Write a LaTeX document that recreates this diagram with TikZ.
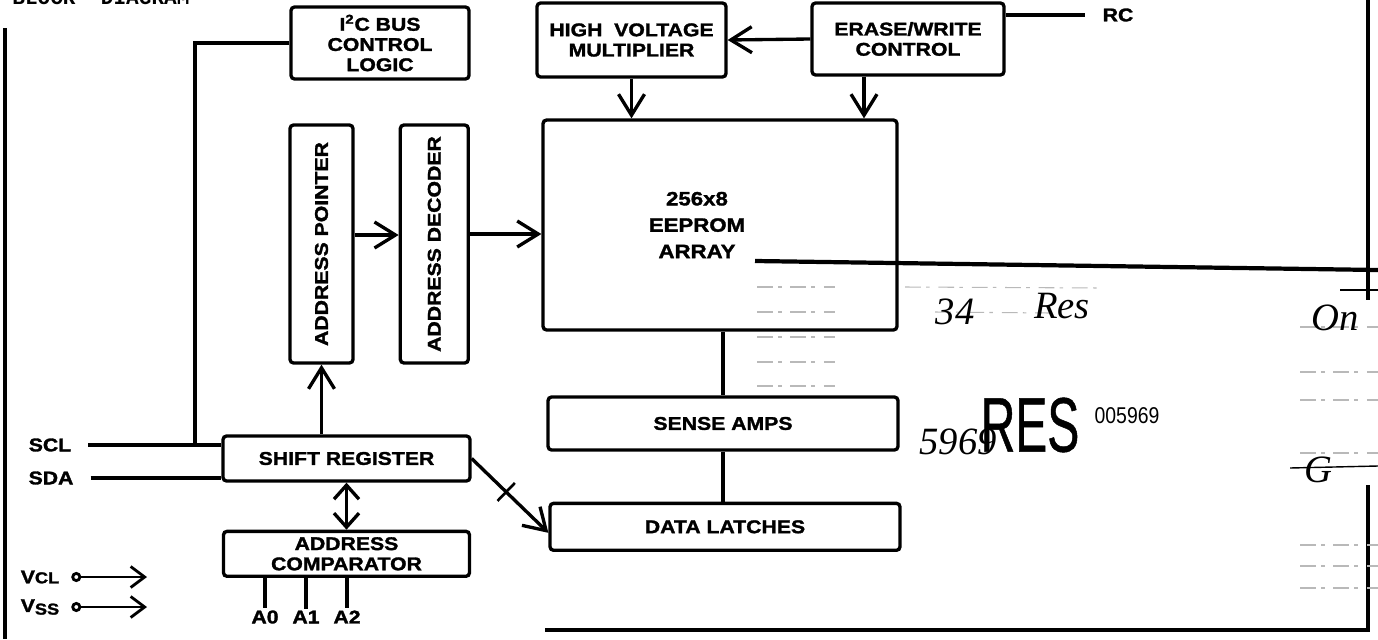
\documentclass[tikz,border=0pt]{standalone}
\usepackage{fontspec}
\setmainfont{Liberation Sans}[FakeStretch=1.15, BoldFeatures={FakeBold=1.6}]
\newfontfamily\typefont{Liberation Mono}
\newfontfamily\handfont{Liberation Serif}
\newfontfamily\stampfont{Liberation Sans}[FakeStretch=0.62, FakeBold=0.6]
\newfontfamily\numfont{Liberation Sans}[FakeStretch=0.85]
\usetikzlibrary{arrows.meta, positioning, calc}

\begin{document}
\begin{tikzpicture}[
    x=0.02cm, y=-0.02cm,
    block/.style={rectangle, rounded corners=2pt, draw=black, line width=1.9pt, align=center, inner sep=0pt, font=\fontsize{10.5}{11.5}\selectfont\bfseries},
    pinname/.style={inner sep=1pt, font=\fontsize{10.5}{11.5}\selectfont\bfseries},
    arrow/.style={line width=1.9pt, -{Straight Barb[length=0.42cm,width=0.52cm]}},
    dblarrow/.style={line width=1.9pt, {Straight Barb[length=0.28cm,width=0.5cm]}-{Straight Barb[length=0.28cm,width=0.5cm]}},
    supply/.style={line width=1.6pt, {Circle[open,length=0.2cm]}-{Straight Barb[length=0.28cm,width=0.42cm]}},
    wire/.style={line width=1.9pt},
    hand/.style={inner sep=0pt, font=\handfont\itshape\fontsize{22}{22}\selectfont},
    scan/.style={gray!55, line width=0.6pt, dash pattern=on 9pt off 3pt on 2pt off 5pt},
]
    \useasboundingbox (0,0) rectangle (1378,639);

    % page frame and title
    \node[anchor=base west, inner sep=0pt, font=\typefont\bfseries\fontsize{12}{12}\selectfont] (title) at (12,5) {BLOCK\ \ DIAGRAM};
    \draw[wire] (5,28) -- (5,639);
    \draw[wire] (1368,0) -- (1368,300);
    \draw[wire] (1368,485) -- (1368,630) -- (545,630);

    % control blocks on top
    \node[block, minimum width=3.56cm, minimum height=1.44cm] (i2c) at (380,43) {I\textsuperscript{2}C BUS\\CONTROL\\LOGIC};
    \node[block, minimum width=3.78cm, minimum height=1.48cm] (hvm) at (631.5,40) {HIGH\ \ VOLTAGE\\MULTIPLIER};
    \node[block, minimum width=3.84cm, minimum height=1.44cm] (ewc) at (908,39) {ERASE/WRITE\\CONTROL};
    \node[pinname] (rc) at (1118,15) {RC};

    % memory array
    \node[block, minimum width=7.08cm, minimum height=4.2cm] (arr) at (720,225) {};
    \node[pinname, align=center, font=\fontsize{11}{15}\selectfont\bfseries] (arrtxt) at (697,225) {256x8\\EEPROM\\ARRAY};
    \node[block, minimum width=7.0cm, minimum height=1.06cm] (sa) at (723,423.5) {SENSE AMPS};
    \node[block, minimum width=7.0cm, minimum height=0.94cm, below=1.0cm of sa, xshift=0.04cm] (dl) {DATA LATCHES};

    % address path
    \node[block, minimum width=1.26cm, minimum height=4.76cm] (ap) at (321.5,244) {\rotatebox{90}{ADDRESS POINTER}};
    \node[block, minimum width=1.36cm, minimum height=4.76cm, right=0.88cm of ap] (ad) {\rotatebox{90}{ADDRESS DECODER}};
    \node[block, minimum width=4.94cm, minimum height=0.9cm] (sr) at (346.5,458.5) {SHIFT REGISTER};
    \node[block, minimum width=4.92cm, minimum height=0.9cm, below=0.94cm of sr] (ac) {ADDRESS\\COMPARATOR};

    % pins
    \node[pinname] (scl) at (50,445) {SCL};
    \node[pinname] (sda) at (51,478) {SDA};
    \node[pinname] (vcl) at (40,577) {V{\fontsize{9}{9}\selectfont CL}};
    \node[pinname] (vss) at (40,607) {V\raisebox{-1.5pt}{\fontsize{9}{9}\selectfont SS}};
    \coordinate (vclend) at (147,577);
    \coordinate (vssend) at (147,607);
    \node[pinname] (a0) at (265,617) {A0};
    \node[pinname] (a1) at (306,617) {A1};
    \node[pinname] (a2) at (347,617) {A2};
    \coordinate (rcpin) at (1085,15);
    \coordinate (sclj) at (195,445);

    \draw[arrow] (ewc.west) -- (hvm.east);
    \draw[wire] (ewc.east |- rcpin) -- (rcpin);
    \draw[arrow] (hvm.south) -- (hvm.south |- arr.north);
    \draw[arrow] ([xshift=-0.88cm]ewc.south) -- ([xshift=-0.88cm]ewc.south |- arr.north);
    \draw[arrow] ([yshift=0.18cm]ap.east) -- ([yshift=0.18cm]ap.east -| ad.west);
    \draw[arrow] ([yshift=0.2cm]ad.east) -- ([yshift=0.2cm]ad.east -| arr.west);
    \draw[arrow] (ap.south |- sr.north) -- (ap.south);
    \draw[dblarrow] (sr.south) -- (ac.north);
    \draw[arrow] (sr.east) -- node[pos=0.45, sloped, draw, line width=1.5pt, inner sep=0pt, minimum width=0pt, minimum height=0.5cm] (bus) {} ([yshift=-0.12cm]dl.west);
    \draw[wire] (arr.south -| sa.north) -- (sa.north);
    \draw[wire] (sa.south) -- (sa.south |- dl.north);
    \draw[wire] (i2c.west) -- (sclj |- i2c.west) -- (sclj);
    \draw[wire] ($(scl.east)+(15,0)$) -- (scl.east -| sr.west);
    \draw[wire] ($(sda.east)+(15,0)$) -- (sda.east -| sr.west);
    \draw[supply] ($(vcl.east)+(10,0)$) -- (vclend);
    \draw[supply] ($(vss.east)+(10,0)$) -- (vssend);
    \draw[wire] (ac.south -| a0) -- (a0.north);
    \draw[wire] (ac.south -| a1) -- (a1.north);
    \draw[wire] (ac.south -| a2) -- (a2.north);

    % marks added on the copy
    \draw[line width=2.4pt] (755,261) -- (1378,270);
    \draw[line width=1pt] (1340,290) -- (1378,290);
    \foreach \yy in {287,312,337,362,386}
        \draw[scan] (757,\yy) -- (835,\yy);
    \draw[scan] (905,287) -- (1100,288);
    \draw[scan] (935,312) -- (1050,313);
    \foreach \yy in {327,372,400,453,545,566,588}
        \draw[scan] (1300,\yy) -- (1378,\yy);
    \node[hand] (n34) at (955,312) {34};
    \node[hand] (res) at (1062,306) {Res};
    \node[hand] (on) at (1335,318) {On};
    \node[hand] (n5969) at (958,442) {5969};
    \node[inner sep=0pt, font=\stampfont\fontsize{44}{44}\selectfont] (stamp) at (1030,425) {RES};
    \node[inner sep=0pt, font=\numfont\fontsize{13}{13}\selectfont] (num) at (1127,416) {005969};
    \node[hand] (g) at (1318,470) {G};
    \draw[line width=0.8pt] (1290,468) -- (1378,466);
\end{tikzpicture}
\end{document}
